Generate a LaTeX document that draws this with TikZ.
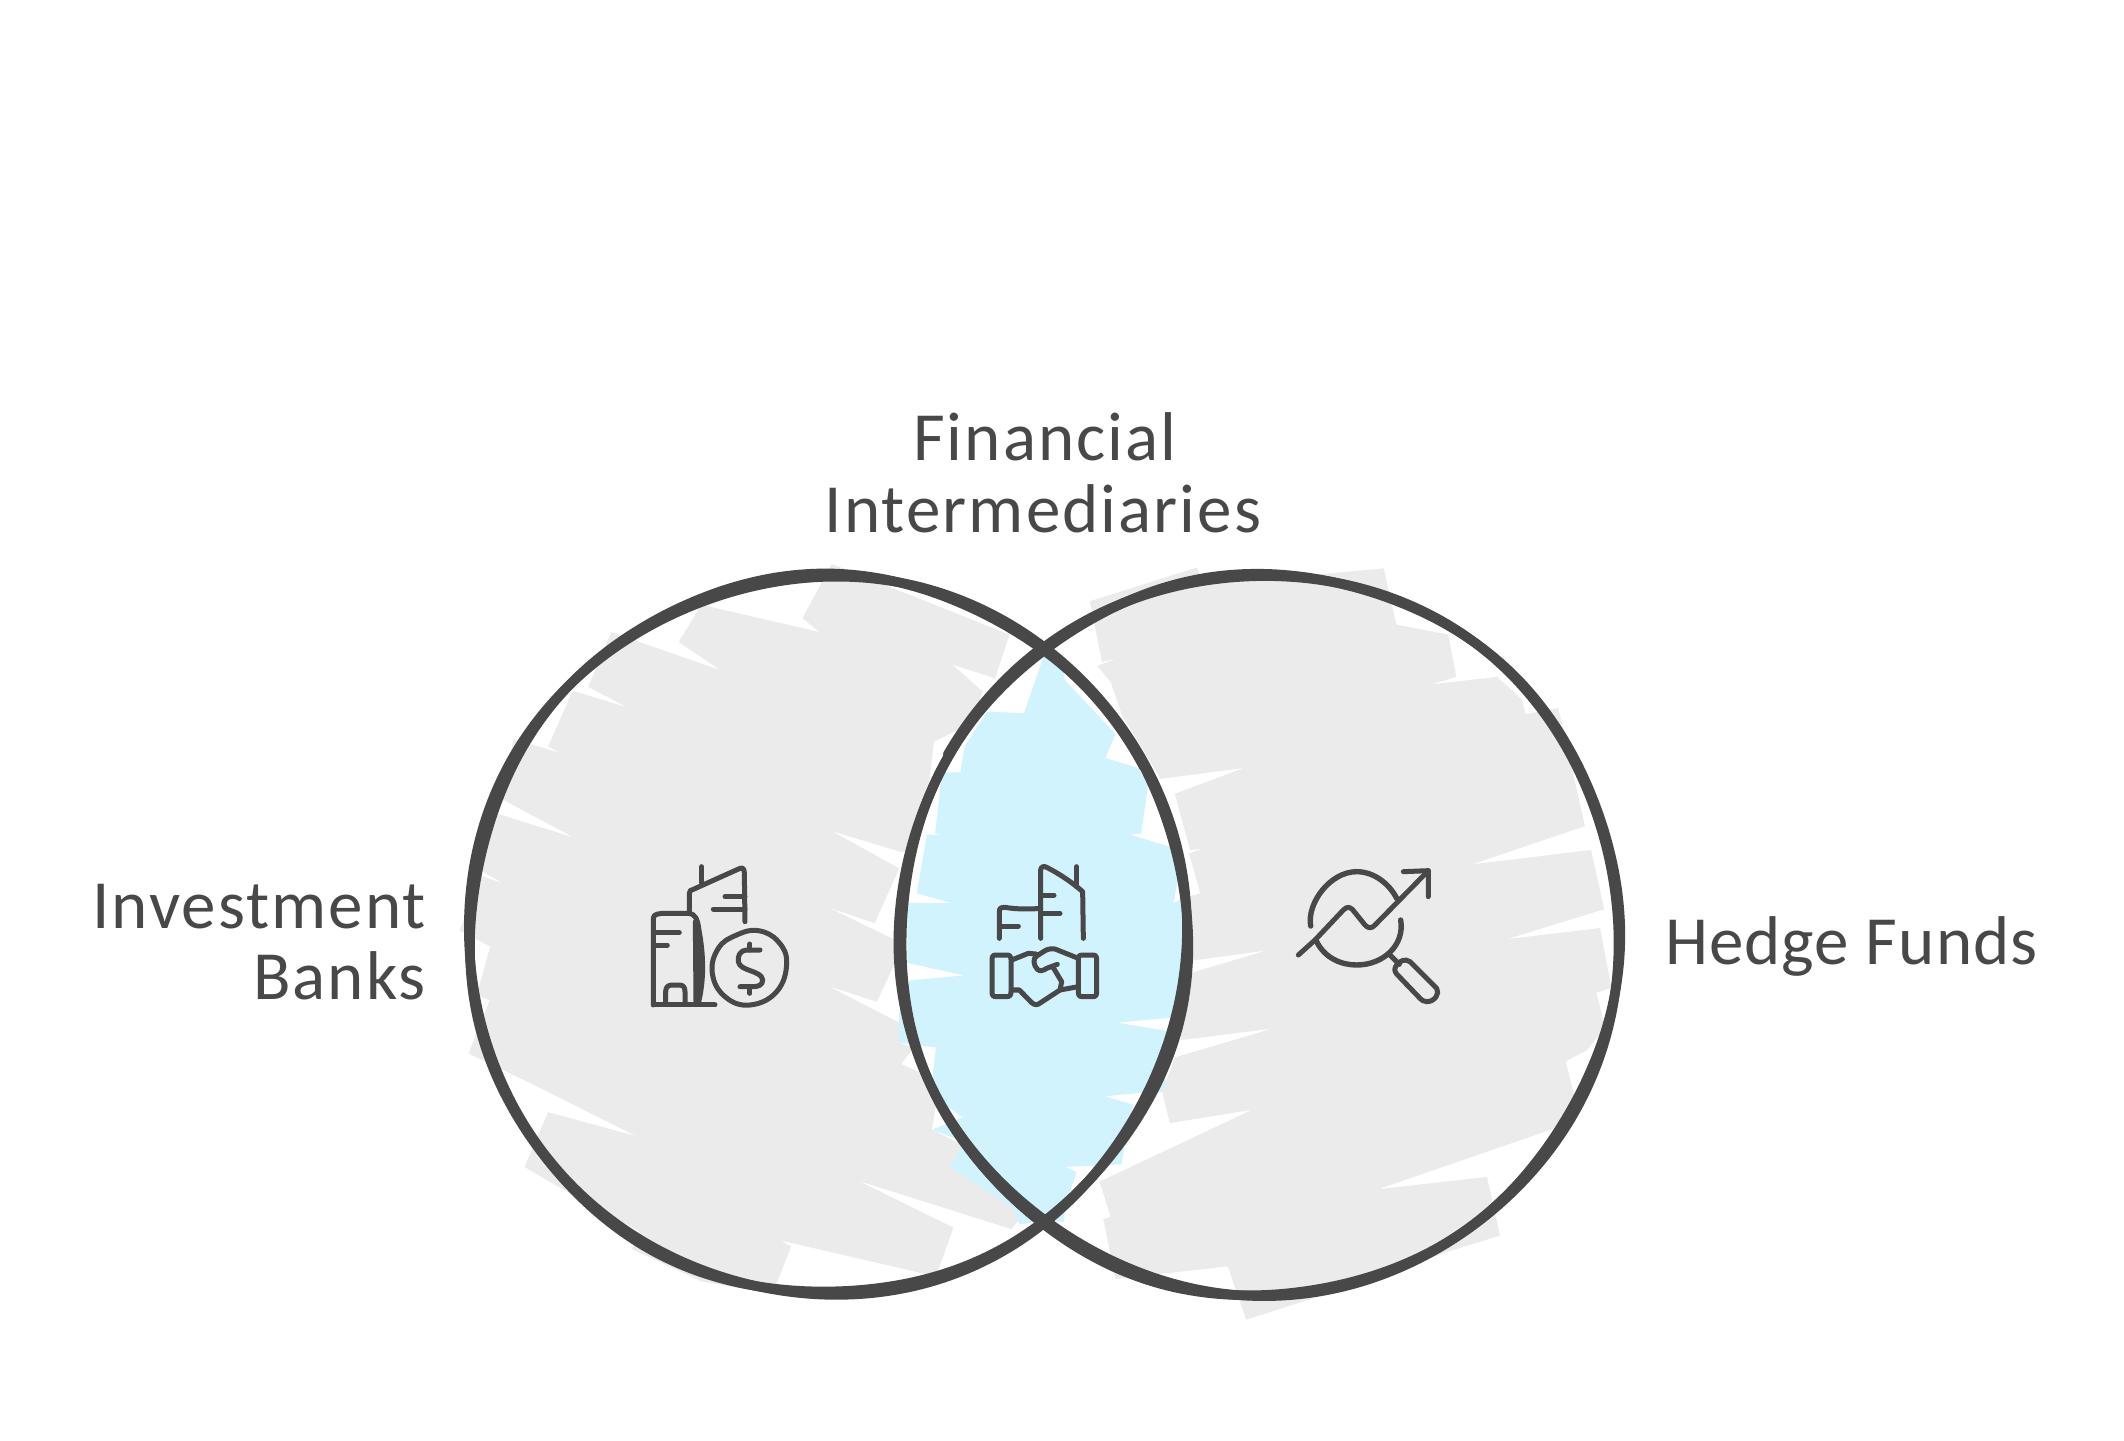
\documentclass[tikz,border=0pt]{standalone}
\usepackage{fontspec}
\setmainfont{Carlito}
\newfontface\labelface[LetterSpace=3.0]{Carlito}
\newfontface\tightface[LetterSpace=1.6]{Carlito}
\definecolor{ink}{HTML}{484848}
\definecolor{hatch}{HTML}{EBEBEB}
\definecolor{lensblue}{HTML}{D1F3FE}
\tikzset{
  lz/.style={shift={(440pt,-550pt)},x=0.40816pt,y=-0.4975pt},
  rz/.style={shift={(1040pt,-550pt)},x=0.40816pt,y=-0.4975pt},
  icona/.style={shift={(630pt,-850pt)},x=0.3333pt,y=-0.3333pt},
  iconb/.style={shift={(980pt,-850pt)},x=0.3333pt,y=-0.3333pt},
  iconc/.style={shift={(1290pt,-850pt)},x=0.3333pt,y=-0.3333pt},
  ring/.style={draw=ink,line width=9.6pt,line join=round},
  extra/.style={draw=ink,line width=6pt,line cap=round},
  glyph/.style={draw=ink,line width=5pt,line cap=round,line join=round},
  label/.style={text=ink,font=\labelface\fontsize{69}{72}\selectfont,inner sep=0pt,outer sep=0pt},
  hedge/.style={text=ink,font=\tightface\fontsize{69}{72}\selectfont,inner sep=0pt,outer sep=0pt},
}
\begin{document}
\begin{tikzpicture}[x=1pt,y=-1pt]
\useasboundingbox (0,0) rectangle (2124,1440);
\fill[white] (0,0) rectangle (2124,1440);
% grey hachure left
\begin{scope}[lz]
\fill[hatch] (960,28)--(1395,170)--(1360,258)--(1255,230)--(1330,285)--(1300,350)--(1210,385)--(1180,600)--(1130,607)--(960,565)--(1125,640)--(1065,750)--(950,718)--(1118,785)--(1115,830)--(1070,908)--(950,876)--(1125,950)--(1125,990)--(1160,1000)--(1130,1033)--(1225,1070)--(1205,1165)--(1290,1200)--(1250,1240)--(1400,1310)--(1425,1340)--(1400,1365)--(1025,1268)--(1258,1362)--(1215,1460)--(835,1388)--(860,1400)--(815,1495)--(640,1470)--(470,1405)--(490,1370)--(290,1280)--(207,1240)--(265,1130)--(480,1178)--(230,1075)--(70,1012)--(122,905)--(90,895)--(123,797)--(48,765)--(100,655)--(155,670)--(90,640)--(140,530)--(328,578)--(150,500)--(180,380)--(295,408)--(265,395)--(325,283)--(458,316)--(363,275)--(420,165)--(688,242)--(585,185)--(640,110)--(930,165)--(888,137)--cycle;
\end{scope}
% grey hachure right
\begin{scope}[rz]
\fill[hatch] (122,103)--(385,35)--(400,70)--(842,37)--(873,150)--(1000,170)--(1020,255)--(960,270)--(1120,255)--(1180,300)--(1190,330)--(1270,318)--(1335,555)--(1058,632)--(1350,603)--(1382,722)--(1145,782)--(1372,760)--(1400,880)--(1363,890)--(1385,960)--(1340,1005)--(1288,1028)--(1310,1100)--(1270,1160)--(828,1285)--(1095,1260)--(1127,1378)--(1000,1410)--(800,1470)--(505,1547)--(460,1440)--(185,1465)--(155,1345)--(173,1340)--(150,1280)--(145,1270)--(520,1125)--(318,1152)--(300,1090)--(330,1020)--(570,962)--(345,985)--(350,855)--(555,805)--(375,825)--(350,700)--(393,690)--(365,610)--(400,600)--(368,603)--(330,490)--(500,438)--(295,460)--(200,330)--(173,265)--(140,233)--(190,218)--(152,225)--cycle;
\end{scope}
% lens ground
\begin{scope}
\clip (828,935) circle[radius=359];
\fill[white] (1260,935) circle[radius=360];
\end{scope}
% blue hachure
\begin{scope}[lz]
\fill[lensblue] (1480,215)--(1437,328)--(1340,325)--(1285,395)--(1275,447)--(1230,447)--(1213,570)--(1228,573)--(1193,572)--(1168,690)--(1255,710)--(1145,710)--(1145,830)--(1285,855)--(1150,865)--(1125,930)--(1125,990)--(1215,1000)--(1205,1070)--(1225,1110)--(1282,1140)--(1205,1165)--(1285,1190)--(1250,1240)--(1400,1320)--(1420,1355)--(1480,1350)--(1530,1350)--(1530,215)--cycle;
\end{scope}
\begin{scope}[rz]
\fill[lensblue] (8,215)--(185,370)--(160,418)--(240,438)--(265,470)--(248,570)--(220,572)--(320,597)--(340,650)--(327,710)--(350,700)--(345,860)--(320,940)--(190,950)--(320,968)--(295,1040)--(310,1070)--(300,1090)--(240,1092)--(158,1098)--(228,1115)--(210,1180)--(200,1235)--(60,1240)--(90,1250)--(60,1320)--(5,1340)--(-40,1345)--(-40,330)--cycle;
\end{scope}
% outlines: two rough strokes each
\begin{scope}[shift={(828pt,-935pt)}]
\draw[ring] plot[smooth cycle,tension=0.6,samples=48,domain=0:352.5] (\x:{359+1.8*sin(3*\x+40)+1.2*sin(7*\x)});
\draw[ring] plot[smooth cycle,tension=0.6,samples=48,domain=0:352.5] (\x:{359-1.8*sin(3*\x+40)+1.2*sin(5*\x+120)});
\draw[extra] plot[smooth,tension=0.6,samples=10,domain=310:332] (\x:356);
\end{scope}
\begin{scope}[shift={(1260pt,-935pt)}]
\draw[ring] plot[smooth cycle,tension=0.6,samples=48,domain=0:352.5] (\x:{360+2*sin(2*\x+200)+1.2*sin(7*\x+60)});
\draw[ring] plot[smooth cycle,tension=0.6,samples=48,domain=0:352.5] (\x:{360-1.6*sin(3*\x+100)+1.4*sin(5*\x)});
\draw[extra] plot[smooth,tension=0.6,samples=10,domain=210:232] (\x:362.5);
\draw[extra] plot[smooth,tension=0.6,samples=10,domain=125:150] (\x:362.5);
\end{scope}
% icon: bank
\begin{scope}[icona]
\draw[glyph] (70,465) -- (70,205) .. controls (70,192) and (85,190) .. (110,190) -- (175,190) .. controls (198,192) and (203,210) .. (206,235) .. controls (222,320) and (222,390) .. (205,460);
\draw[glyph] (196,215) -- (198,455);
\draw[glyph] (206,250) -- (206,440);
\draw[glyph] (70,465) -- (255,465);
\draw[glyph] (80,248) -- (148,248) (80,285) -- (112,285);
\draw[glyph] (107,460) -- (107,425) .. controls (107,410) and (115,405) .. (128,405) -- (148,405) .. controls (160,405) and (165,412) .. (165,425) -- (165,460);
\draw[glyph] (178,185) -- (178,130) .. controls (178,122) and (182,120) .. (190,118) -- (330,55) .. controls (340,52) and (343,58) .. (343,70) -- (345,215);
\draw[glyph] (215,50) -- (215,98);
\draw[glyph] (285,140) -- (345,140) (250,177) -- (345,177);
\draw[glyph] plot[smooth cycle,tension=0.72] coordinates {(385,242) (445,275) (470,340) (440,425) (360,465) (285,440) (247,370) (265,295) (320,255)};
\draw[glyph] (390,300) -- (350,300) .. controls (330,300) and (322,320) .. (325,335) .. controls (330,365) and (395,360) .. (398,390) .. controls (398,405) and (385,410) .. (370,410) -- (330,410);
\draw[glyph] (360,282) -- (360,300) (360,410) -- (360,430);
\end{scope}
% icon: handshake
\begin{scope}[iconb]
\draw[glyph] (58,265) -- (58,185) .. controls (58,175) and (62,172) .. (75,172) .. controls (110,178) and (150,178) .. (182,175);
\draw[glyph] (60,228) -- (115,228);
\draw[glyph] (182,265) -- (182,60) .. controls (183,50) and (190,47) .. (200,52) .. controls (240,72) and (280,100) .. (308,125) -- (310,265);
\draw[glyph] (290,50) -- (290,110);
\draw[glyph] (190,135) -- (222,135) (190,190) -- (240,190);
\draw[glyph] (48,315) -- (80,315) .. controls (90,315) and (93,320) .. (93,330) -- (93,425) .. controls (93,435) and (90,440) .. (80,440) -- (48,440) .. controls (38,440) and (36,435) .. (36,425) -- (36,330) .. controls (36,320) and (38,315) .. (48,315) -- cycle;
\draw[glyph] (307,315) -- (338,315) .. controls (348,315) and (350,320) .. (350,330) -- (350,425) .. controls (350,435) and (348,440) .. (338,440) -- (307,440) .. controls (297,440) and (295,435) .. (295,425) -- (295,330) .. controls (295,320) and (297,315) .. (307,315) -- cycle;
\draw[glyph] (95,330) -- (145,310) -- (168,312);
\draw[glyph] (95,420) -- (118,420) -- (155,458) .. controls (165,466) and (172,466) .. (182,458) -- (240,420) -- (295,410);
\draw[glyph] (295,325) -- (225,297) .. controls (215,295) and (205,297) .. (195,302) -- (170,318) .. controls (158,325) and (160,345) .. (172,358) .. controls (180,365) and (190,362) .. (200,355) -- (232,343);
\draw[glyph] (218,350) -- (245,395) -- (240,420);
\end{scope}
% icon: chart and magnifier
\begin{scope}[iconc]
\draw[glyph,line width=5.4pt] (62,228) .. controls (50,160) and (120,65) .. (200,65) .. controls (255,65) and (300,105) .. (320,145);
\draw[glyph,line width=5.4pt] (80,275) .. controls (105,325) and (155,345) .. (200,345) .. controls (280,345) and (345,285) .. (332,210);
\draw[glyph] (25,315) -- (75,270) -- (160,180) .. controls (170,170) and (178,170) .. (187,178) -- (225,225) .. controls (235,236) and (245,236) .. (255,225) -- (415,62);
\draw[glyph] (340,65) -- (415,62) -- (415,140);
\draw[glyph] (300,315) -- (328,343);
\draw[glyph] (320,345) .. controls (330,332) and (345,325) .. (360,335) -- (440,415) .. controls (450,430) and (435,455) .. (410,455) .. controls (400,455) and (395,450) .. (390,445) -- (320,372) .. controls (312,362) and (313,355) .. (320,345) -- cycle;
\end{scope}
% labels
\node[label,anchor=base] (fin) at (1045,460) {Financial};
\node[label,anchor=base] (int) at (1043,532) {Intermediaries};
\node[label,anchor=base east] (inv) at (426,928) {Investment};
\node[label,anchor=base east] (ban) at (426,999) {Banks};
\node[hedge,anchor=base west] (hed) at (1665,964) {Hedge Funds};
\end{tikzpicture}
\end{document}
